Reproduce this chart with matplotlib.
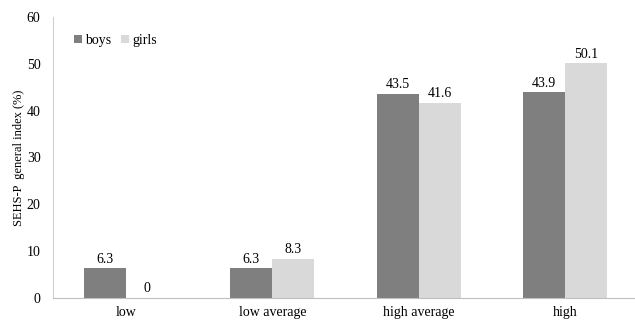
import matplotlib
matplotlib.use("Agg")
import matplotlib.pyplot as plt
import numpy as np

categories = ["low", "low average", "high average", "high"]
boys = [6.3, 6.3, 43.5, 43.9]
girls = [0, 8.3, 41.6, 50.1]
yticks = [0, 10, 20, 30, 40, 50, 60]

plt.rcParams['font.family'] = ['Liberation Serif', 'DejaVu Serif']

fig = plt.figure(figsize=(6.35, 3.2), dpi=100)
ax = fig.add_axes([53/635, 22/320, 585/635, 281/320])

x = np.arange(len(categories))
w = 0.287
b1 = ax.bar(x - w/2, boys, w, color="#7f7f7f", label="boys", zorder=2)
b2 = ax.bar(x + w/2, girls, w, color="#d9d9d9", label="girls", zorder=2)

for rect, v in zip(b1, boys):
    ax.text(rect.get_x() + rect.get_width()/2, v + 0.6, f"{v:g}", ha="center", va="bottom", fontsize=10)
for rect, v in zip(b2, girls):
    ax.text(rect.get_x() + rect.get_width()/2, v + 0.6, f"{v:g}", ha="center", va="bottom", fontsize=10)

ax.set_xlim(-0.5, 3.5)
ax.set_ylim(0, 60)
ax.set_yticks(yticks)
ax.set_xticks(x)
ax.set_xticklabels(categories, fontsize=10)
ax.tick_params(axis="both", length=0, labelsize=10)
ax.tick_params(axis="x", pad=6)
ax.tick_params(axis="y", pad=9)
ax.set_ylabel("SEHS-P  general index (%)", fontsize=9, labelpad=1)

for s in ["top", "right"]:
    ax.spines[s].set_visible(False)
ax.spines["left"].set_color("#d0d0d0")
ax.spines["bottom"].set_color("#bfbfbf")

leg = ax.legend(loc="upper left", bbox_to_anchor=(0.02, 0.975), ncol=2, frameon=False,
                fontsize=10, handlelength=0.55, handleheight=0.55, handletextpad=0.25,
                columnspacing=0.7, borderaxespad=0.3)

fig.savefig("out.png", dpi=100)
